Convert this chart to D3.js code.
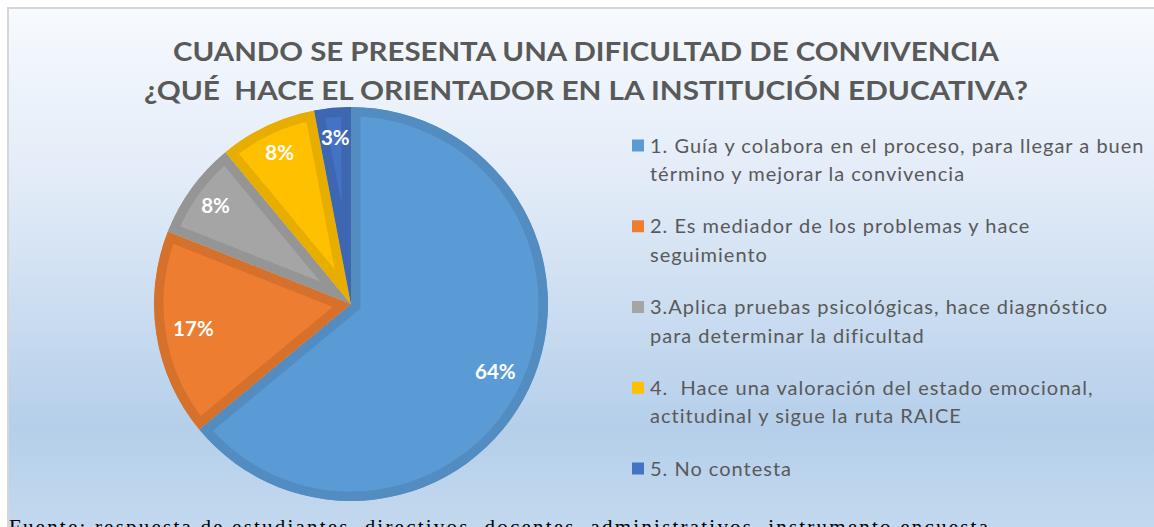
<!DOCTYPE html>
<html>
<head>
<meta charset="utf-8">
<script src="https://cdn.jsdelivr.net/npm/d3@7"></script>
<style>
  html, body { margin: 0; padding: 0; background: #ffffff; overflow: hidden; }
  svg { display: block; }
  text { white-space: pre; }
</style>
</head>
<body>
<svg id="chart" width="1154" height="527"></svg>
<script>
// Chart content
const titleLines = [
  "CUANDO SE PRESENTA UNA DIFICULTAD DE CONVIVENCIA",
  "¿QUÉ  HACE EL ORIENTADOR EN LA INSTITUCIÓN EDUCATIVA?"
];
const categories = [
  ["1. Guía y colabora en el proceso, para llegar a buen", "término y mejorar la convivencia"],
  ["2. Es mediador de los problemas y hace", "seguimiento"],
  ["3.Aplica pruebas psicológicas, hace diagnóstico", "para determinar la dificultad"],
  ["4.  Hace una valoración del estado emocional,", "actitudinal y sigue la ruta RAICE"],
  ["5. No contesta"]
];
const percentages = [64, 17, 8, 8, 3];
const sliceColors = ["#5b9bd5", "#ed7d31", "#a5a5a5", "#ffc000", "#4472c4"];
const sourceNote = "Fuente: respuesta de estudiantes, directivos, docentes, administrativos, instrumento encuesta";

const svg = d3.select("#chart");
const W = 1154, H = 527;

// Background panel with vertical gradient
const defs = svg.append("defs");
const grad = defs.append("linearGradient")
  .attr("id", "bg").attr("x1", 0).attr("y1", 0).attr("x2", 0).attr("y2", 1);
[[0, "#f7fafe"], [0.35, "#e0eaf7"], [0.78, "#b5cfea"], [1, "#c5daef"]].forEach(([o, c]) =>
  grad.append("stop").attr("offset", o).attr("stop-color", c));

svg.append("rect")
  .attr("x", 8).attr("y", 8).attr("width", W + 10).attr("height", H + 10)
  .attr("fill", "url(#bg)")
  .attr("stroke", "#d6d6d6").attr("stroke-width", 2);

// Title
const title = svg.append("g").attr("font-family", "Lato, 'Open Sans', sans-serif")
  .attr("font-weight", "bold").attr("font-size", 27.5).attr("fill", "#595959")
  .attr("text-anchor", "middle");
const titleWidths = [826, 884];
titleLines.forEach((t, i) => {
  title.append("text")
    .attr("x", 586).attr("y", 61 + i * 38.5)
    .attr("textLength", titleWidths[i]).attr("lengthAdjust", "spacingAndGlyphs")
    .text(t);
});

// Pie
const cx = 351, cy = 304, R = 197;
const pie = d3.pie().sort(null).value(d => d);
const arcs = pie(percentages);
const arc = d3.arc().innerRadius(0).outerRadius(R);

arcs.forEach((a, i) => {
  const id = "slice" + i;
  defs.append("clipPath").attr("id", id + "c")
    .append("path").attr("transform", `translate(${cx},${cy})`).attr("d", arc(a));
  const g = svg.append("g").attr("clip-path", `url(#${id}c)`)
    .append("g").attr("transform", `translate(${cx},${cy})`);
  g.append("path").attr("d", arc(a)).attr("fill", sliceColors[i]);
  g.append("path").attr("d", arc(a))
    .attr("fill", "none")
    .attr("stroke", d3.color(sliceColors[i]).darker(0.28))
    .attr("stroke-width", 19)
    .attr("stroke-linejoin", "miter");
});

// Percentage labels
const labelG = svg.append("g").attr("transform", `translate(${cx},${cy})`)
  .attr("font-family", "Lato, 'Open Sans', sans-serif").attr("font-weight", "bold")
  .attr("font-size", 20.5).attr("fill", "#ffffff").attr("text-anchor", "middle");
arcs.forEach((a) => {
  const r = a.value < 10 ? R * 0.85 : R * 0.81;
  const m = (a.startAngle + a.endAngle) / 2;
  labelG.append("text")
    .attr("x", r * Math.sin(m)).attr("y", -r * Math.cos(m))
    .attr("dy", "0.36em")
    .text(d3.format(".0f")(a.value) + "%");
});

// Legend
const legend = svg.append("g")
  .attr("font-family", "Lato, 'Open Sans', sans-serif")
  .attr("font-size", 20).attr("letter-spacing", 1.0).attr("fill", "#595959");
const entryY = d3.scaleLinear().domain([0, 4]).range([152.5, 475.5]);
categories.forEach((lines, i) => {
  const y = entryY(i);
  legend.append("rect")
    .attr("x", 632).attr("y", y - 13).attr("width", 12).attr("height", 12)
    .attr("fill", sliceColors[i]);
  lines.forEach((ln, j) => {
    legend.append("text").attr("x", 650).attr("y", y + j * 28.5).text(ln);
  });
});

// Source note
svg.append("text")
  .attr("x", 9).attr("y", 534)
  .attr("font-family", "'Liberation Serif', 'Times New Roman', serif")
  .attr("font-size", 21).attr("fill", "#000000")
  .attr("textLength", 979).attr("lengthAdjust", "spacing")
  .text(sourceNote);
</script>
</body>
</html>
